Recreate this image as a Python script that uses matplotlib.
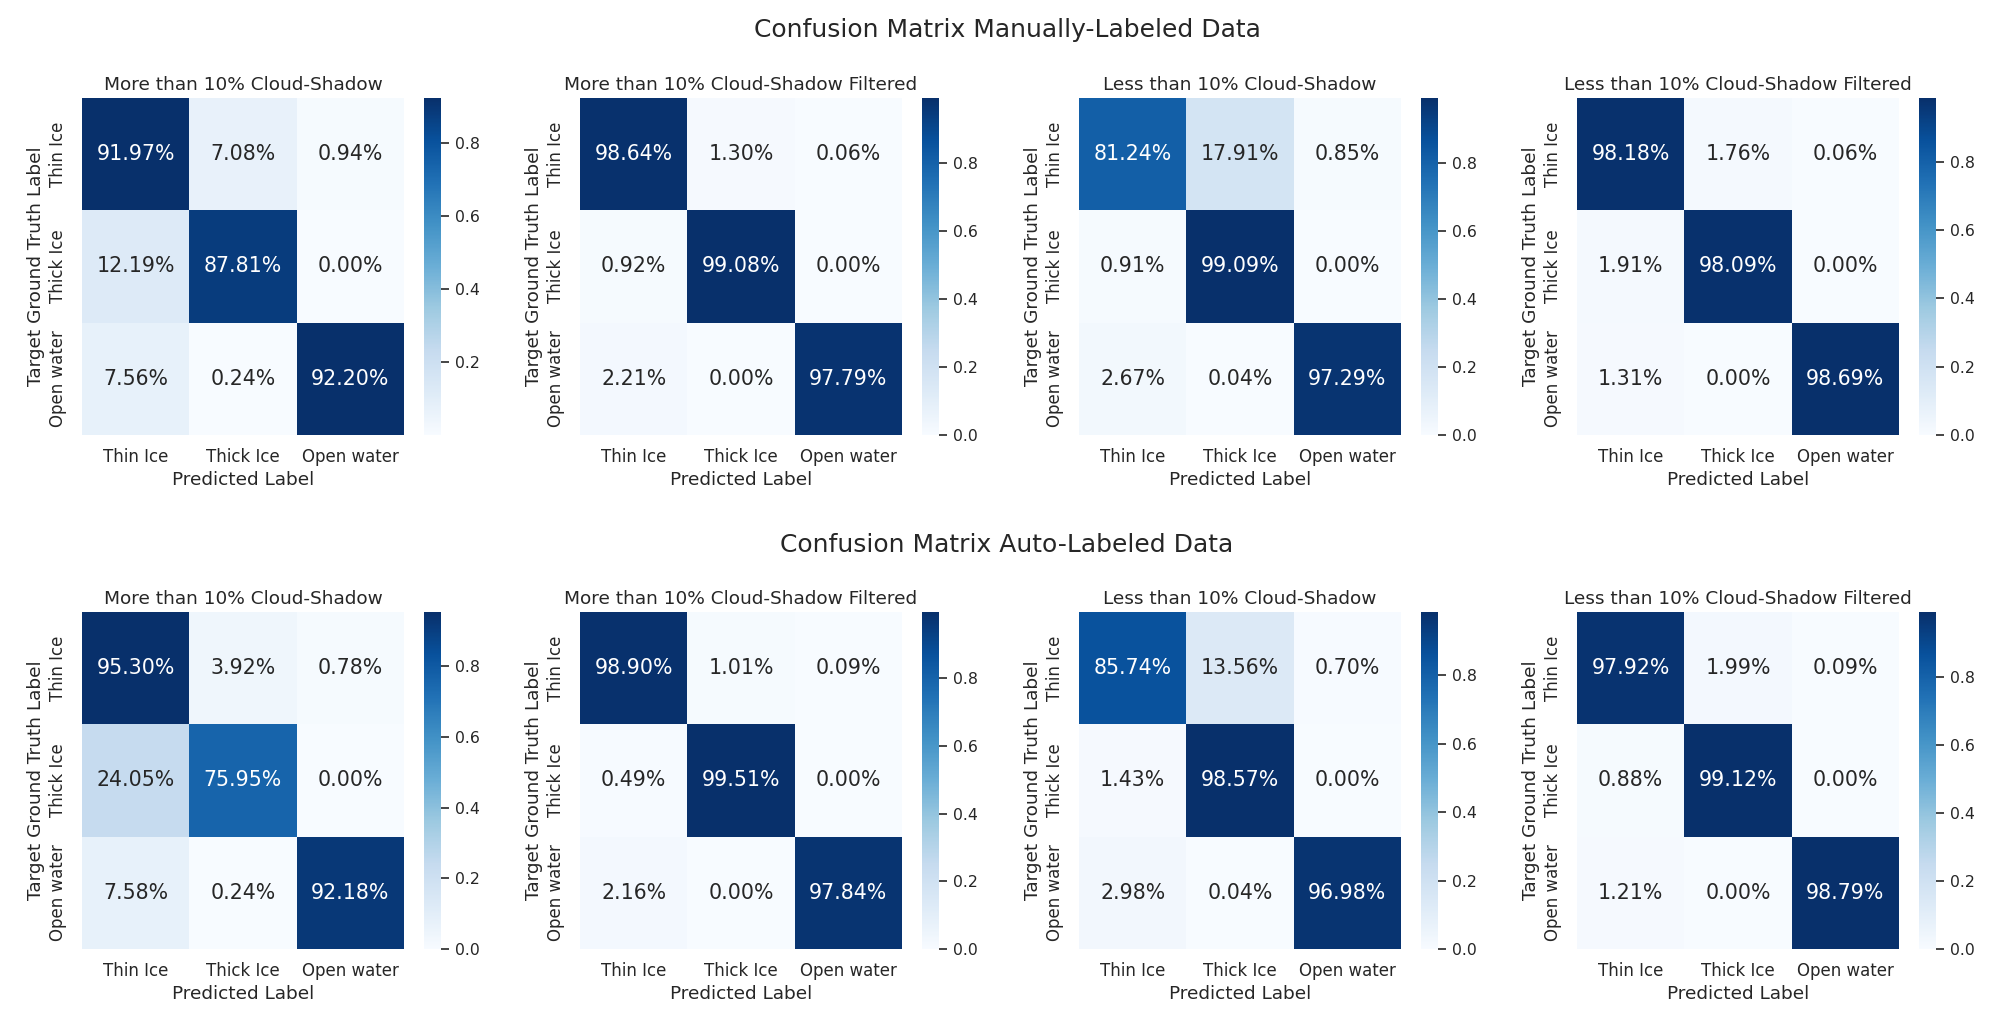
import numpy             as np
import seaborn           as sns
import matplotlib.pyplot as plt

classes = ['Thin Ice', 'Thick Ice', 'Open water']

row_titles = ['Confusion Matrix Manually-Labeled Data',
              'Confusion Matrix Auto-Labeled Data']

panel_titles = ['More than 10% Cloud-Shadow',
                'More than 10% Cloud-Shadow Filtered',
                'Less than 10% Cloud-Shadow',
                'Less than 10% Cloud-Shadow Filtered']

# manually labeled data (rows = ground truth, cols = predicted)
manual_more     = [[0.9197, 0.0708, 0.0094], [0.1219, 0.8781, 0.00004], [0.0756, 0.0024, 0.9220]]
manual_more_flt = [[0.9864, 0.0130, 0.0006], [0.0092, 0.9908, 0.0000], [0.0221, 0.0000, 0.9779]]
manual_less     = [[0.8124, 0.1791, 0.0085], [0.0091, 0.9909, 0.0000], [0.0267, 0.0004, 0.9729]]
manual_less_flt = [[0.9818, 0.0176, 0.0006], [0.0191, 0.9809, 0.0000], [0.0131, 0.0000, 0.9869]]

# auto labeled data
auto_more     = [[0.9530, 0.0392, 0.0078], [0.2405, 0.7595, 0.0000], [0.0758, 0.0024, 0.9218]]
auto_more_flt = [[0.9890, 0.0101, 0.0009], [0.0049, 0.9951, 0.0000], [0.0216, 0.0000, 0.9784]]
auto_less     = [[0.8574, 0.1356, 0.0070], [0.0143, 0.9857, 0.0000], [0.0298, 0.0004, 0.9698]]
auto_less_flt = [[0.9792, 0.0199, 0.0009], [0.0088, 0.9912, 0.0000], [0.0121, 0.0000, 0.9879]]

matrices = [[manual_more, manual_more_flt, manual_less, manual_less_flt],
            [auto_more, auto_more_flt, auto_less, auto_less_flt]]

sns.set_theme(style='white')
plt.rcParams['font.family'] = ['DejaVu Sans']

W, H = 2014, 1036
fig = plt.figure(figsize=(W/100, H/100), dpi=100)

def px_axes(x0, y0, w, h):
    # pixel box (top-left origin) -> figure axes
    return fig.add_axes([x0/W, 1 - (y0 + h)/H, w/W, h/H])

def drawMatrix(ax, cax, cm, title):
    sns.heatmap(np.array(cm), annot=True, fmt='.2%', cmap='Blues', ax=ax, cbar_ax=cax,
                xticklabels=classes, yticklabels=classes,
                annot_kws={'size': 14.8})
    ax.set_title(title, fontsize=13.3, pad=6)
    ax.set_xlabel('Predicted Label', fontsize=13.3, labelpad=3.5)
    ax.set_ylabel('Target Ground Truth Label', fontsize=13.3, labelpad=3)
    ax.tick_params(axis='both', length=0, labelsize=12)
    ax.tick_params(axis='x', pad=9.5)
    ax.tick_params(axis='y', pad=10.5)
    plt.setp(ax.get_yticklabels(), rotation=90, va='center')
    cax.tick_params(labelsize=11.3, length=6, width=1.2, pad=4, color='.15')

col_x   = [82, 580, 1079, 1577]
row_y   = [98, 612]
hm_w    = 322
hm_h    = 337
title_y = [30, 545]

for r in range(2):
    fig.text(0.5, 1 - title_y[r]/H, row_titles[r], ha='center', va='center',
             fontsize=18, color='.15')
    for c in range(4):
        ax  = px_axes(col_x[c], row_y[r], hm_w, hm_h)
        cax = px_axes(col_x[c] + 342, row_y[r], 17, hm_h)
        drawMatrix(ax, cax, matrices[r][c], panel_titles[c])

fig.savefig('out.png', dpi=100)
